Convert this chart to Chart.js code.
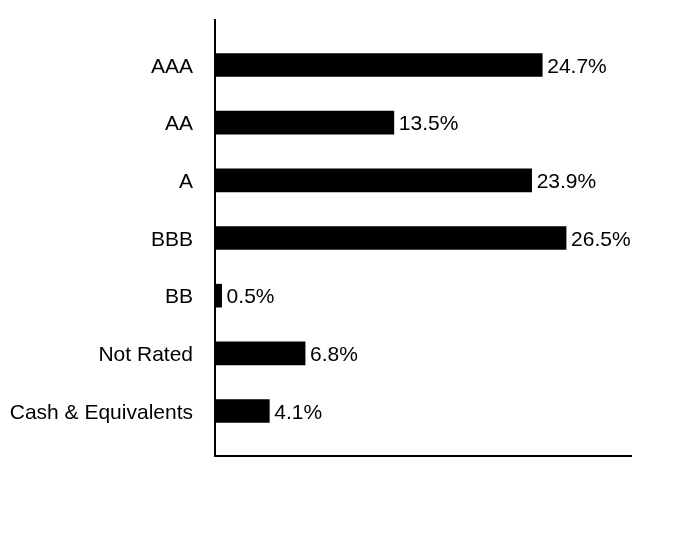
<!DOCTYPE html>
<html>
<head>
<meta charset="utf-8">
<script src="https://cdn.jsdelivr.net/npm/chart.js@4"></script>
<style>
  html, body { margin: 0; padding: 0; background: #fff; }
  #wrap { width: 684px; height: 540px; }
</style>
</head>
<body>
<div id="wrap"><canvas id="chart"></canvas></div>
<script>
const categories = ["AAA", "AA", "A", "BBB", "BB", "Not Rated", "Cash & Equivalents"];
const percentages = [24.7, 13.5, 23.9, 26.5, 0.5, 6.8, 4.1];

const FONT = "Liberation Sans, Arial, sans-serif";

// percent text at the end of each bar
const barLabels = {
    id: "barLabels",
    afterDatasetsDraw(chart) {
        const ctx = chart.ctx;
        const meta = chart.getDatasetMeta(0);
        ctx.save();
        ctx.font = "21px " + FONT;
        ctx.fillStyle = "#000";
        ctx.textAlign = "left";
        ctx.textBaseline = "middle";
        meta.data.forEach((bar, i) => {
            ctx.fillText(percentages[i].toFixed(1) + "%", bar.x + 5, bar.y + 2);
        });
        ctx.restore();
    }
};

const ctx = document.getElementById("chart").getContext("2d");
new Chart(ctx, {
    type: "bar",
    data: {
        datasets: [{
            data: percentages.map((v, i) => ({ x: v, y: i })),
            backgroundColor: "#000",
            borderWidth: 0,
            barThickness: 23
        }]
    },
    options: {
        indexAxis: "y",
        responsive: true,
        maintainAspectRatio: false,
        animation: false,
        layout: { padding: { top: 20, right: 53, bottom: 0, left: 0 } },
        plugins: {
            legend: { display: false },
            tooltip: { enabled: false }
        },
        scales: {
            x: {
                type: "linear",
                min: 0,
                max: 31.4,
                grid: { display: false, drawTicks: false },
                border: { display: true, color: "#000", width: 2 },
                ticks: { display: false },
                afterFit: (s) => { s.height = 84; s.paddingLeft = 0; s.paddingRight = 0; }
            },
            y: {
                type: "linear",
                reverse: true,
                offset: false,
                bounds: "data",
                min: -0.78,
                max: 6.78,
                grid: { display: false, drawTicks: false, offset: false },
                border: { display: true, color: "#000", width: 2 },
                afterBuildTicks: (s) => { s.ticks = categories.map((_, i) => ({ value: i })); },
                ticks: {
                    color: "#000",
                    padding: 22,
                    labelOffset: 2,
                    font: { family: FONT, size: 21 },
                    callback: (v) => categories[v]
                },
                afterFit: (s) => { s.width = 215; s.paddingTop = 0; s.paddingBottom = 0; }
            }
        }
    },
    plugins: [barLabels]
});
</script>
</body>
</html>
